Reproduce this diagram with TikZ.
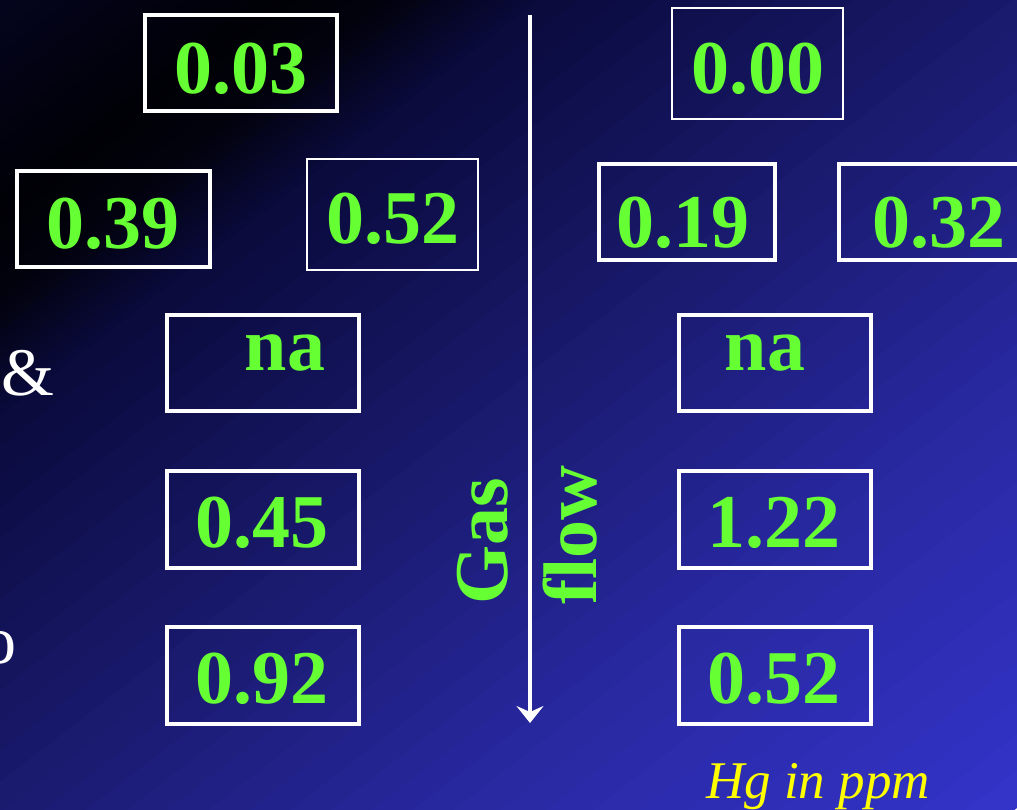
\documentclass[tikz,border=0pt]{standalone}
\usepackage{fontspec}
\setmainfont{Liberation Serif}
\usetikzlibrary{arrows.meta}
\definecolor{valgreen}{RGB}{102,255,51}
\definecolor{bgS}{RGB}{4,4,30}
\definecolor{bgK}{RGB}{0,0,6}
\definecolor{bgK2}{RGB}{2,2,14}
\definecolor{bgN}{RGB}{10,10,60}
\definecolor{bgM}{RGB}{25,25,108}
\definecolor{bgL}{RGB}{40,40,160}
\definecolor{bgE}{RGB}{52,52,202}
\definecolor{hgyellow}{RGB}{255,255,0}
\newcommand\bgseg[4]{%
  \foreach \k in {0,...,11}{%
    \pgfmathsetmacro\sa{#1+(#2-#1)*\k/12}%
    \pgfmathsetmacro\sb{#1+(#2-#1)*(\k+1)/12+1.5}%
    \pgfmathsetmacro\pc{100*(\k+0.5)/12}%
    \fill[#4!\pc!#3] ({\sa*0.61-1500*0.79},{\sa*0.79+1500*0.61}) -- ({\sa*0.61+1500*0.79},{\sa*0.79-1500*0.61}) -- ({\sb*0.61+1500*0.79},{\sb*0.79-1500*0.61}) -- ({\sb*0.61-1500*0.79},{\sb*0.79+1500*0.61}) -- cycle;
  }}
\tikzset{
  valbox/.style={draw=white, line width=4pt, inner sep=0pt, minimum width=192pt, minimum height=96pt},
  thinbox/.style={valbox, line width=2pt},
  valtext/.style={text=valgreen, font=\bfseries\fontsize{76}{76}\selectfont, inner sep=0pt, anchor=base},
  sidetext/.style={text=white, font=\fontsize{68}{68}\selectfont, inner sep=0pt},
  flowarrow/.style={draw=white, line width=4.5pt, -{Stealth[length=17pt, width=27pt, inset=6pt]}}
}
\begin{document}
\begin{tikzpicture}[x=1pt, y=-1pt]
\useasboundingbox (0,0) rectangle (1017,809);
\begin{scope}
\clip (0,0) rectangle (1017,809);
\bgseg{0}{170}{bgS}{bgK}
\bgseg{170}{240}{bgK}{bgK2}
\bgseg{240}{330}{bgK2}{bgN}
\bgseg{330}{620}{bgN}{bgM}
\bgseg{620}{920}{bgM}{bgL}
\bgseg{920}{1262}{bgL}{bgE}
\end{scope}
% boxes
\node[valbox] (b03) at (241,63) {};
\node[valbox, minimum width=193pt] (b39) at (113.5,219) {};
\node[thinbox, minimum width=171pt, minimum height=111pt] (b52L) at (392.5,214.5) {};
\node[thinbox, minimum width=171pt, minimum height=111pt] (b00) at (757.5,63.5) {};
\node[valbox, minimum width=176pt] (b19) at (687,212) {};
\node[valbox, minimum width=189pt] (b32) at (933.5,212) {};
\node[valbox] (bnaL) at (263,363) {};
\node[valbox] (bnaR) at (775,363) {};
\node[valbox, minimum height=97pt] (b45) at (263,519.5) {};
\node[valbox, minimum height=97pt] (b122) at (775,519.5) {};
\node[valbox, minimum height=97pt] (b92) at (263,675.5) {};
\node[valbox, minimum height=97pt] (b52R) at (775,675.5) {};
% values
\node[valtext] (t03) at (240.5,93) {0.03};
\node[valtext] (t39) at (113,248) {0.39};
\node[valtext] (t52L) at (392.5,243) {0.52};
\node[valtext] (t00) at (757.5,93) {0.00};
\node[valtext] (t19) at (682.5,247) {0.19};
\node[valtext] (t32) at (939,247) {0.32};
\node[valtext] (tnaL) at (285,370) {na};
\node[valtext] (tnaR) at (765,370) {na};
\node[valtext] (t45) at (261.5,547) {0.45};
\node[valtext] (t122) at (774,547) {1.22};
\node[valtext] (t92) at (261.5,703) {0.92};
\node[valtext] (t52R) at (774,703) {0.52};
% gas flow arrow
\coordinate (atop) at (530,15);
\coordinate (abot) at (530,723);
\draw[flowarrow] (atop) -- (abot);
\node[valtext, rotate=90] (gas) at (507,541) {Gas};
\node[valtext, rotate=90] (flow) at (596,535) {flow};
% side fragments
\node[sidetext, anchor=base west] (amp) at (1,395) {\&};
\node[sidetext, anchor=base east] (frag) at (17,663) {o};
% unit note
\node[text=hgyellow, font=\itshape\fontsize{53}{53}\selectfont, inner sep=0pt, anchor=base west] (hg) at (706,798) {Hg in ppm};
\end{tikzpicture}
\end{document}
